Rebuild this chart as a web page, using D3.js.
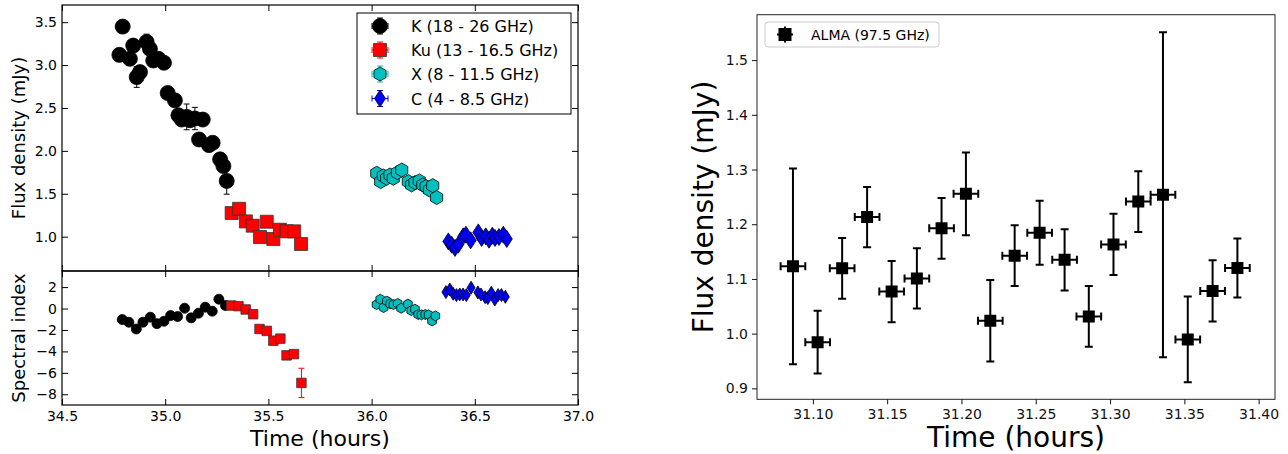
<!DOCTYPE html>
<html><head><meta charset="utf-8">
<script src="https://cdn.jsdelivr.net/npm/d3@7"></script>
<style>
html,body{margin:0;padding:0;background:#fff;}
svg{display:block;font-family:"DejaVu Sans",sans-serif;}
</style></head>
<body>
<svg id="c" width="1288" height="454"></svg>
<script>
// ---------- Left: flux density light curve ----------
const kTime = [34.778,34.794,34.829,34.845,34.862,34.878,34.910,34.926,34.942,34.967,34.994,35.012,35.047,35.064,35.080,35.104,35.120,35.144,35.164,35.182,35.212,35.230,35.266,35.282,35.298];
const kFlux = [3.119,3.448,3.073,3.227,2.860,2.918,3.270,3.189,3.053,3.073,3.027,2.674,2.589,2.415,2.365,2.396,2.357,2.377,2.133,2.365,2.067,2.094,1.901,1.824,1.650];
const kErr  = [0.05,0.05,0.06,0.05,0.12,0.05,0.09,0.05,0.05,0.05,0.05,0.05,0.05,0.05,0.05,0.15,0.05,0.13,0.05,0.05,0.05,0.05,0.05,0.05,0.155];
const kuTime = [35.322,35.358,35.391,35.424,35.459,35.492,35.524,35.556,35.589,35.625,35.658];
const kuFlux = [1.275,1.325,1.178,1.128,0.996,1.174,0.973,1.081,1.062,1.062,0.915];
const kuErr  = [0.04,0.04,0.04,0.04,0.04,0.04,0.04,0.04,0.04,0.04,0.04];
const xTime = [36.025,36.044,36.057,36.073,36.089,36.105,36.125,36.146,36.178,36.194,36.210,36.231,36.248,36.264,36.280,36.296,36.315];
const xFlux = [1.739,1.642,1.708,1.681,1.719,1.681,1.746,1.777,1.642,1.603,1.630,1.650,1.603,1.584,1.545,1.595,1.456];
const cTime = [36.372,36.388,36.404,36.420,36.444,36.457,36.480,36.517,36.533,36.553,36.569,36.585,36.598,36.617,36.638,36.655];
const cFlux = [0.945,0.907,0.869,0.907,1.004,1.023,0.957,1.050,0.985,1.004,0.965,1.012,0.985,0.996,1.023,0.973];

// ---------- Left: spectral index ----------
const kTimeS = [34.792,34.824,34.860,34.892,34.928,34.960,34.994,35.026,35.060,35.094,35.126,35.161,35.194,35.228,35.260,35.292];
const kAlpha = [-1.03,-1.28,-1.91,-1.28,-0.81,-1.41,-1.19,-0.66,-0.75,0.03,-0.87,-0.44,0.12,-0.25,0.87,0.28];
const kuTimeS = [35.319,35.355,35.390,35.426,35.457,35.492,35.524,35.558,35.588,35.624,35.660];
const kuAlpha = [0.28,0.22,-0.09,-0.53,-1.91,-2.09,-3.00,-2.81,-4.37,-4.25,-6.94];
const kuAlphaErr = [0.2,0.2,0.2,0.2,0.2,0.2,0.2,0.2,0.2,0.2,1.37];
const xTimeS = [36.024,36.042,36.058,36.074,36.090,36.106,36.126,36.143,36.176,36.192,36.210,36.226,36.242,36.260,36.276,36.293,36.309];
const xAlpha = [0.375,0.87,0.09,0.69,0.44,0.375,0.47,0.03,0.41,-0.19,-0.06,-0.56,-0.59,-0.56,-0.59,-1.16,-0.69];
const cTimeS = [36.360,36.379,36.395,36.411,36.427,36.443,36.459,36.482,36.515,36.530,36.550,36.563,36.580,36.597,36.613,36.629,36.648];
const cAlpha = [1.53,1.78,1.37,1.25,1.31,1.31,1.25,1.94,1.50,1.31,1.06,0.97,1.47,0.84,1.25,1.25,1.09];

const leftXTicks = [34.5,35.0,35.5,36.0,36.5,37.0];
const fluxTicks = [1.0,1.5,2.0,2.5,3.0,3.5];
const alphaTicks = [-8,-6,-4,-2,0,2];
const legendLabels = ["K (18 - 26 GHz)","Ku (13 - 16.5 GHz)","X (8 - 11.5 GHz)","C (4 - 8.5 GHz)"];

// ---------- Right: ALMA ----------
const almaTime = [31.0866,31.1032,31.1197,31.1365,31.1530,31.1700,31.1866,31.2030,31.2194,31.2358,31.2526,31.2694,31.2857,31.3023,31.3190,31.3356,31.3523,31.3690,31.3857];
const almaFlux = [1.123,0.9845,1.1195,1.213,1.077,1.101,1.1925,1.2555,1.0235,1.1425,1.1845,1.135,1.0315,1.163,1.2415,1.254,0.9895,1.078,1.120];
const almaErr  = [0.179,0.0575,0.0555,0.055,0.056,0.055,0.0555,0.0755,0.0745,0.0555,0.0585,0.056,0.0555,0.056,0.0555,0.297,0.0785,0.056,0.054];
const almaTimeErr = 0.0083;
const almaXTicks = [31.10,31.15,31.20,31.25,31.30,31.35,31.40];
const almaYTicks = [0.9,1.0,1.1,1.2,1.3,1.4,1.5];
const almaLabel = "ALMA (97.5 GHz)";

const svg = d3.select("#c");
const F = '"DejaVu Sans", sans-serif';

// ---- left scales
const xL = d3.scaleLinear().domain([34.5,37.0]).range([62,578]);
const yTop = d3.scaleLinear().domain([0.6,3.7]).range([271,5]);
const yBot = d3.scaleLinear().domain([-9,3.5]).range([405,271]);

function styleAxis(g, fs, col){
  g.select(".domain").remove();
  g.selectAll("line").attr("stroke",col||"#000").attr("stroke-width",1);
  g.selectAll("text").attr("font-family",F).attr("font-size",fs).attr("fill",col||"#000");
}
// marker shapes
function hexPath(r){ const p=[]; for(let i=0;i<6;i++){const a=-Math.PI/2+i*Math.PI/3; p.push([r*Math.cos(a),r*Math.sin(a)]);} return "M"+p.map(d=>d.join(",")).join("L")+"Z"; }
function diaPath(w,h){ return `M0,${-h}L${w},0L0,${h}L${-w},0Z`; }
function sqPath(s){ const h=s/2; return `M${-h},${-h}L${h},${-h}L${h},${h}L${-h},${h}Z`; }
function circPath(r){ return `M${-r},0A${r},${r} 0 1,0 ${r},0A${r},${r} 0 1,0 ${-r},0Z`; }

function drawSeries(g, xs, ys, errs, xS, yS, color, shape, fill, stroke){
  const data = xs.map((t,i)=>({t, v:ys[i], e: errs?errs[i]:0}));
  if(errs){
    const eg = g.append("g");
    data.forEach(d=>{
      const x = xS(d.t), y0 = yS(d.v - d.e), y1 = yS(d.v + d.e);
      eg.append("line").attr("x1",x).attr("x2",x).attr("y1",y0).attr("y2",y1).attr("stroke",color).attr("stroke-width",1);
      eg.append("line").attr("x1",x-3).attr("x2",x+3).attr("y1",y0).attr("y2",y0).attr("stroke",color).attr("stroke-width",1);
      eg.append("line").attr("x1",x-3).attr("x2",x+3).attr("y1",y1).attr("y2",y1).attr("stroke",color).attr("stroke-width",1);
    });
  }
  g.append("g").selectAll("path").data(data).join("path")
    .attr("d", shape)
    .attr("transform", d=>`translate(${xS(d.t)},${yS(d.v)})`)
    .attr("fill", fill).attr("stroke", stroke).attr("stroke-width",0.8);
}

// clip for panels
const defs = svg.append("defs");
defs.append("clipPath").attr("id","clipTop").append("rect").attr("x",62).attr("y",5).attr("width",516).attr("height",266);
defs.append("clipPath").attr("id","clipBot").append("rect").attr("x",62).attr("y",271).attr("width",516).attr("height",134);
defs.append("clipPath").attr("id","clipR").append("rect").attr("x",757).attr("y",14.7).attr("width",518).attr("height",384.6);

// ---- top panel
const gTop = svg.append("g").attr("clip-path","url(#clipTop)");
drawSeries(gTop, kTime, kFlux, kErr, xL, yTop, "#000", circPath(7.5), "#000", "#000");
drawSeries(gTop, kuTime, kuFlux, kuErr, xL, yTop, "#f00", sqPath(13), "#f00", "#333");
drawSeries(gTop, xTime, xFlux, null, xL, yTop, "#00bfbf", hexPath(7), "#00bfbf", "#000");
drawSeries(gTop, cTime, cFlux, null, xL, yTop, "#00f", diaPath(5.5,8.5), "#00f", "#000");

// ---- bottom panel
const gBot = svg.append("g").attr("clip-path","url(#clipBot)");
drawSeries(gBot, kTimeS, kAlpha, null, xL, yBot, "#000", circPath(5), "#000", "#000");
drawSeries(gBot, kuTimeS, kuAlpha, kuAlphaErr, xL, yBot, "#f00", sqPath(9.5), "#f00", "#333");
drawSeries(gBot, xTimeS, xAlpha, null, xL, yBot, "#00bfbf", hexPath(5), "#00bfbf", "#000");
drawSeries(gBot, cTimeS, cAlpha, null, xL, yBot, "#00f", diaPath(4,6.5), "#00f", "#000");

// ---- left axes (inward ticks, all sides)
const TS = 6;
svg.append("g").attr("transform","translate(62,0)")
  .call(d3.axisLeft(yTop).tickValues(fluxTicks).tickFormat(d3.format(".1f")).tickSize(-TS).tickPadding(5))
  .call(g=>styleAxis(g,14));
svg.append("g").attr("transform","translate(578,0)")
  .call(d3.axisRight(yTop).tickValues(fluxTicks).tickFormat("").tickSize(-TS))
  .call(g=>styleAxis(g,14));
svg.append("g").attr("transform","translate(0,271)")
  .call(d3.axisBottom(xL).tickValues(leftXTicks).tickFormat("").tickSize(-TS))
  .call(g=>styleAxis(g,14));
svg.append("g").attr("transform","translate(0,5)")
  .call(d3.axisTop(xL).tickValues(leftXTicks).tickFormat("").tickSize(-TS))
  .call(g=>styleAxis(g,14));

svg.append("g").attr("transform","translate(62,0)")
  .call(d3.axisLeft(yBot).tickValues(alphaTicks).tickFormat(d3.format("d")).tickSize(-TS).tickPadding(5))
  .call(g=>styleAxis(g,14));
svg.append("g").attr("transform","translate(578,0)")
  .call(d3.axisRight(yBot).tickValues(alphaTicks).tickFormat("").tickSize(-TS))
  .call(g=>styleAxis(g,14));
svg.append("g").attr("transform","translate(0,271)")
  .call(d3.axisTop(xL).tickValues(leftXTicks).tickFormat("").tickSize(-TS))
  .call(g=>styleAxis(g,14));
svg.append("g").attr("transform","translate(0,405)")
  .call(d3.axisBottom(xL).tickValues(leftXTicks).tickFormat(d3.format(".1f")).tickSize(-TS).tickPadding(6))
  .call(g=>styleAxis(g,14));

// frames
svg.append("rect").attr("x",62).attr("y",5).attr("width",516).attr("height",266).attr("fill","none").attr("stroke","#000").attr("stroke-width",1.2);
svg.append("rect").attr("x",62).attr("y",271).attr("width",516).attr("height",134).attr("fill","none").attr("stroke","#000").attr("stroke-width",1.2);

// left labels
svg.append("text").attr("transform","translate(25,138) rotate(-90)").attr("text-anchor","middle")
  .attr("font-family",F).attr("font-size",18).text("Flux density (mJy)");
svg.append("text").attr("transform","translate(25,338) rotate(-90)").attr("text-anchor","middle")
  .attr("font-family",F).attr("font-size",18).text("Spectral index");
svg.append("text").attr("x",320).attr("y",446).attr("text-anchor","middle")
  .attr("font-family",F).attr("font-size",22).text("Time (hours)");

// left legend
const lg = svg.append("g");
lg.append("rect").attr("x",357).attr("y",13).attr("width",214).attr("height",101).attr("fill","#fff").attr("stroke","#000").attr("stroke-width",1);
const legStyles = [
  {c:"#000", d:circPath(7.5), f:"#000", s:"#000"},
  {c:"#f00", d:sqPath(13), f:"#f00", s:"#333"},
  {c:"#00bfbf", d:hexPath(7), f:"#00bfbf", s:"#000"},
  {c:"#00f", d:diaPath(5.5,8.5), f:"#00f", s:"#000"}
];
const legY = [26,50,74,98.5];
legendLabels.forEach((lab,i)=>{
  const st = legStyles[i], x = 380, y = legY[i];
  const e = 8;
  lg.append("line").attr("x1",x).attr("x2",x).attr("y1",y-e).attr("y2",y+e).attr("stroke",st.c);
  lg.append("line").attr("x1",x-e).attr("x2",x+e).attr("y1",y).attr("y2",y).attr("stroke",st.c);
  [[x-3,y-e,x+3,y-e],[x-3,y+e,x+3,y+e],[x-e,y-3,x-e,y+3],[x+e,y-3,x+e,y+3]].forEach(a=>
    lg.append("line").attr("x1",a[0]).attr("y1",a[1]).attr("x2",a[2]).attr("y2",a[3]).attr("stroke",st.c));
  lg.append("path").attr("d",st.d).attr("transform",`translate(${x},${y})`).attr("fill",st.f).attr("stroke",st.s).attr("stroke-width",0.8);
  lg.append("text").attr("x",411).attr("y",y+6).attr("font-family",F).attr("font-size",16).text(lab);
});

// ---------- Right panel ----------
const xR = d3.scaleLinear().domain([31.0624,31.411]).range([757,1275]);
const yR = d3.scaleLinear().domain([0.88,1.583]).range([399.3,14.7]);
const gR = svg.append("g").attr("clip-path","url(#clipR)");
almaTime.forEach((t,i)=>{
  const x = xR(t), y = yR(almaFlux[i]);
  const y0 = yR(almaFlux[i]-almaErr[i]), y1 = yR(almaFlux[i]+almaErr[i]);
  const x0 = xR(t-almaTimeErr), x1 = xR(t+almaTimeErr);
  const c = 4;
  gR.append("line").attr("x1",x).attr("x2",x).attr("y1",y0).attr("y2",y1).attr("stroke","#000").attr("stroke-width",2);
  gR.append("line").attr("x1",x0).attr("x2",x1).attr("y1",y).attr("y2",y).attr("stroke","#000").attr("stroke-width",2);
  gR.append("line").attr("x1",x-c).attr("x2",x+c).attr("y1",y0).attr("y2",y0).attr("stroke","#000").attr("stroke-width",2);
  gR.append("line").attr("x1",x-c).attr("x2",x+c).attr("y1",y1).attr("y2",y1).attr("stroke","#000").attr("stroke-width",2);
  gR.append("line").attr("x1",x0).attr("x2",x0).attr("y1",y-c).attr("y2",y+c).attr("stroke","#000").attr("stroke-width",2);
  gR.append("line").attr("x1",x1).attr("x2",x1).attr("y1",y-c).attr("y2",y+c).attr("stroke","#000").attr("stroke-width",2);
  gR.append("path").attr("d",sqPath(12)).attr("transform",`translate(${x},${y})`).attr("fill","#000");
});
svg.append("g").attr("transform","translate(757,0)")
  .call(d3.axisLeft(yR).tickValues(almaYTicks).tickFormat(d3.format(".1f")).tickSize(5).tickPadding(4))
  .call(g=>styleAxis(g,14,"#111"));
svg.append("g").attr("transform","translate(0,399.3)")
  .call(d3.axisBottom(xR).tickValues(almaXTicks).tickFormat(d3.format(".2f")).tickSize(5).tickPadding(5))
  .call(g=>styleAxis(g,14,"#111"));
svg.append("rect").attr("x",757).attr("y",14.7).attr("width",518).attr("height",384.6).attr("fill","none").attr("stroke","#222").attr("stroke-width",1);

svg.append("text").attr("transform","translate(713,207) rotate(-90)").attr("text-anchor","middle")
  .attr("font-family",F).attr("font-size",28).text("Flux density (mJy)");
svg.append("text").attr("x",1016).attr("y",447).attr("text-anchor","middle")
  .attr("font-family",F).attr("font-size",28).text("Time (hours)");

// right legend
const rl = svg.append("g");
rl.append("rect").attr("x",765).attr("y",22).attr("width",174).attr("height",25).attr("rx",3)
  .attr("fill","#fff").attr("fill-opacity",0.8).attr("stroke","#ccc").attr("stroke-width",1);
rl.append("path").attr("d",sqPath(13)).attr("transform","translate(785,34.5)").attr("fill","#000");
rl.append("line").attr("x1",785).attr("x2",785).attr("y1",26.5).attr("y2",42.5).attr("stroke","#000").attr("stroke-width",2);
rl.append("line").attr("x1",777).attr("x2",793).attr("y1",34.5).attr("y2",34.5).attr("stroke","#000").attr("stroke-width",2);
rl.append("text").attr("x",811).attr("y",39.5).attr("font-family",F).attr("font-size",14).text(almaLabel);
</script>
</body></html>
